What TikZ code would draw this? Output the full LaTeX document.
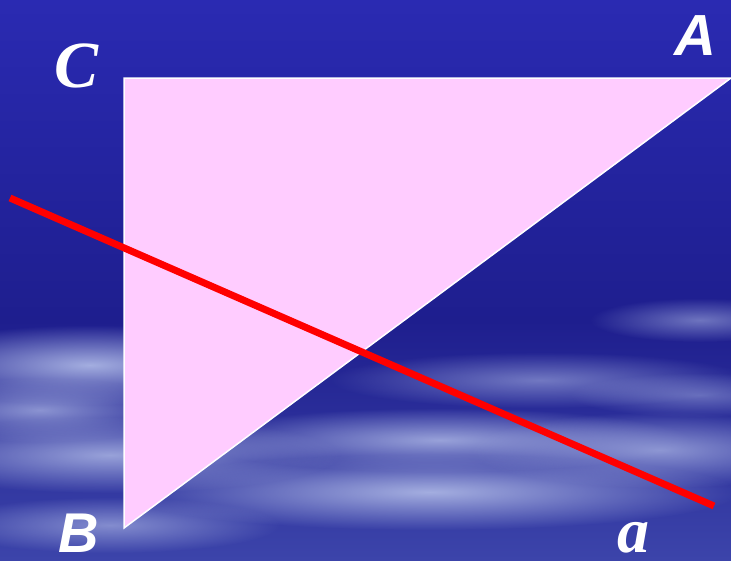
\documentclass[tikz,border=0pt]{standalone}
\usepackage{fontspec}
\setmainfont{Liberation Serif}
\newfontfamily\lsans{Liberation Sans}
\usetikzlibrary{fadings}
\tikzfading[name=softblob, inner color=transparent!0, outer color=transparent!100]
\definecolor{bgtop}{HTML}{2A2AB2}
\definecolor{bgmid}{HTML}{1E1E8E}
\definecolor{bgbot}{HTML}{3C44AA}
\definecolor{cloud}{HTML}{A4AEE0}
\definecolor{tripink}{HTML}{FFCCFF}
\tikzset{
  cloudstreak/.style={fill=cloud, path fading=softblob, fill opacity=#1},
  lbl/.style={text=white, inner sep=0pt, anchor=base}
}
\begin{document}
\begin{tikzpicture}[x=1pt,y=-1pt]
\useasboundingbox (0,0) rectangle (731,560);
% background
\shade[top color=bgtop, bottom color=bgmid] (0,0) rectangle (731,320);
\shade[top color=bgmid, bottom color=bgbot] (0,320) rectangle (731,560);
% cloud streaks
\fill[cloudstreak=1] (90,365) ellipse (200 and 40);
\fill[cloudstreak=0.8] (40,410) ellipse (150 and 32);
\fill[cloudstreak=0.9] (110,455) ellipse (230 and 38);
\fill[cloudstreak=0.9] (440,440) ellipse (250 and 32);
\fill[cloudstreak=1] (430,492) ellipse (310 and 38);
\fill[cloudstreak=0.8] (660,450) ellipse (190 and 38);
\fill[cloudstreak=0.6] (540,380) ellipse (210 and 28);
\fill[cloudstreak=0.6] (700,320) ellipse (110 and 22);
\fill[cloudstreak=0.7] (110,525) ellipse (170 and 28);
\fill[cloudstreak=0.5] (700,395) ellipse (130 and 22);
% triangle
\coordinate (C) at (124,78);
\coordinate (A) at (731,78);
\coordinate (B) at (124,528);
\filldraw[fill=tripink, draw=white, line width=1.5] (C) -- (A) -- (B) -- cycle;
% red line
\coordinate (L1) at (10,198);
\coordinate (L2) at (714,506);
\draw[red, line width=7] (L1) -- (L2);
% labels
\node[lbl, font=\fontsize{66}{66}\selectfont\bfseries\itshape] (lc) at (77,87) {C};
\node[lbl, font=\lsans\fontsize{58}{58}\selectfont\bfseries\itshape] (la) at (695,55) {A};
\node[lbl, font=\lsans\fontsize{56}{56}\selectfont\bfseries\itshape] (lb) at (79,552) {B};
\node[lbl, font=\fontsize{64}{64}\selectfont\bfseries\itshape] (lsa) at (633,552) {a};
\end{tikzpicture}
\end{document}
